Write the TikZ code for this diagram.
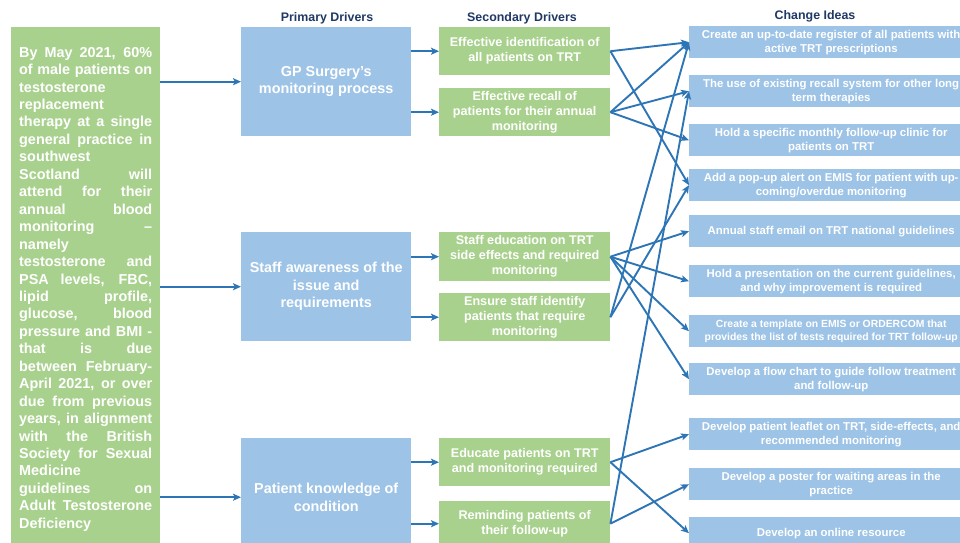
\documentclass[tikz,border=0pt]{standalone}
\usepackage{fontspec}
\setmainfont{Liberation Sans}
\usetikzlibrary{arrows.meta}
\definecolor{grn}{HTML}{A9D18E}
\definecolor{blu}{HTML}{9DC3E6}
\definecolor{arrc}{HTML}{2E75B6}
\definecolor{hdrc}{HTML}{1F3864}
\newlength\jw
\setlength\jw{133pt}
\newcommand\jj[1]{\makebox[\jw][s]{#1}}
\newcommand\jl[1]{\makebox[\jw][l]{#1}}
\begin{document}
\begin{tikzpicture}[x=1pt,y=-1pt,
  lbox/.style={fill=grn, text=white, font=\bfseries\fontsize{14.4}{17.45}\selectfont, align=left, inner sep=0pt, anchor=north west, minimum width=149pt, minimum height=524pt},
  pbox/.style={fill=blu, text=white, font=\bfseries\fontsize{14.4}{17.5}\selectfont, align=center, inner sep=0pt, anchor=north west, minimum width=170pt},
  sbox/.style={fill=grn, text=white, font=\bfseries\fontsize{12.6}{15}\selectfont, align=center, inner sep=0pt, anchor=north west, minimum width=171pt},
  cbox/.style={fill=blu, text=white, font=\bfseries\fontsize{11.4}{14}\selectfont, align=center, inner sep=0pt, anchor=north west, minimum width=284pt, minimum height=32pt},
  hdr/.style={text=hdrc, font=\bfseries\fontsize{12.4}{14}\selectfont, inner sep=0pt},
  arr/.style={draw=arrc, line width=1.9pt, -{Stealth[length=8pt,width=7pt,inset=1.8pt]}}
]
\useasboundingbox (0,0) rectangle (960,542);
\clip (0,0) rectangle (960,542);

% headers
\node[hdr] (H1) at (327,18) {Primary Drivers};
\node[hdr] (H2) at (522,18) {Secondary Drivers};
\node[hdr] (H3) at (815,16) {Change Ideas};

% aim box
\node[lbox] (L) at (11,27) {%
\jj{By May 2021, 60\%}\\
\jj{of male patients on}\\
\jl{testosterone}\\
\jl{replacement}\\
\jj{therapy at a single}\\
\jj{general practice in}\\
\jl{southwest}\\
\jj{Scotland will}\\
\jj{attend for their}\\
\jj{annual blood}\\
\jj{monitoring –}\\
\jl{namely}\\
\jj{testosterone and}\\
\jj{PSA levels, FBC,}\\
\jj{lipid profile,}\\
\jj{glucose, blood}\\
\jj{pressure and BMI -}\\
\jj{that is due}\\
\jj{between February-}\\
\jj{April 2021, or over}\\
\jj{due from previous}\\
\jj{years, in alignment}\\
\jj{with the British}\\
\jj{Society for Sexual}\\
\jl{Medicine}\\
\jj{guidelines on}\\
\jj{Adult Testosterone}\\
\jl{Deficiency}};

% primary drivers
\node[pbox, minimum height=109pt] (P1) at (241,27) {GP Surgery’s\\monitoring process};
\node[pbox, minimum height=109pt] (P2) at (241,232) {Staff awareness of the\\issue and\\requirements};
\node[pbox, minimum height=118pt] (P3) at (241,438) {Patient knowledge of\\condition};

% secondary drivers
\node[sbox, minimum height=48pt] (S1) at (439,27) {Effective identification of\\all patients on TRT};
\node[sbox, minimum height=48pt] (S2) at (439,88) {Effective recall of\\patients for their annual\\monitoring};
\node[sbox, minimum height=49pt] (S3) at (439,232) {Staff education on TRT\\side effects and required\\monitoring};
\node[sbox, minimum height=48pt] (S4) at (439,293) {Ensure staff identify\\patients that require\\monitoring};
\node[sbox, minimum height=48pt] (S5) at (439,438) {Educate patients on TRT\\and monitoring required};
\node[sbox, minimum height=45pt] (S6) at (439,501) {Reminding patients of\\their follow-up};

% change ideas
\node[cbox] (C1) at (689,26) {Create an up-to-date register of all patients with\\active TRT prescriptions};
\node[cbox] (C2) at (689,75) {The use of existing recall system for other long\\term therapies};
\node[cbox] (C3) at (689,124) {Hold a specific monthly follow-up clinic for\\patients on TRT};
\node[cbox] (C4) at (689,169) {Add a pop-up alert on EMIS for patient with up-\\coming/overdue monitoring};
\node[cbox] (C5) at (689,215) {Annual staff email on TRT national guidelines};
\node[cbox] (C6) at (689,265) {Hold a presentation on the current guidelines,\\and why improvement is required};
\node[cbox, font=\bfseries\fontsize{10.4}{12.5}\selectfont] (C7) at (689,315) {Create a template on EMIS or ORDERCOM that\\provides the list of tests required for TRT follow-up};
\node[cbox] (C8) at (689,363) {Develop a flow chart to guide follow treatment\\and follow-up};
\node[cbox] (C9) at (689,418) {Develop patient leaflet on TRT, side-effects, and\\recommended monitoring};
\node[cbox] (C10) at (689,468) {Develop a poster for waiting areas in the\\practice};
\node[cbox] (C11) at (689,517) {Develop an online resource};

% aim -> primary
\draw[arr] (L.east |- P1.west) -- (P1.west);
\draw[arr] (L.east |- P2.west) -- (P2.west);
\draw[arr] (L.east |- P3.west) -- (P3.west);

% primary -> secondary
\draw[arr] (P1.east |- S1.west) -- (S1.west);
\draw[arr] (P1.east |- S2.west) -- (S2.west);
\draw[arr] (P2.east |- S3.west) -- (S3.west);
\draw[arr] (P2.east |- S4.west) -- (S4.west);
\draw[arr] (P3.east |- S5.west) -- (S5.west);
\draw[arr] (P3.east |- S6.west) -- (S6.west);

% secondary -> change ideas
\draw[arr] (S1.east) -- (C1.west);
\draw[arr] (S1.east) -- (C4.west);
\draw[arr] (S2.east) -- (C1.west);
\draw[arr] (S2.east) -- (C2.west);
\draw[arr] (S2.east) -- (C3.west);
\draw[arr] (S3.east) -- (C5.west);
\draw[arr] (S3.east) -- (C6.west);
\draw[arr] (S3.east) -- (C7.west);
\draw[arr] (S3.east) -- (C8.west);
\draw[arr] (S4.east) -- (C1.west);
\draw[arr] (S4.east) -- (C4.west);
\draw[arr] (S5.east) -- (C9.west);
\draw[arr] (S5.east) -- (C11.west);
\draw[arr] (S6.east) -- (C2.west);
\draw[arr] (S6.east) -- (C10.west);
\end{tikzpicture}
\end{document}
